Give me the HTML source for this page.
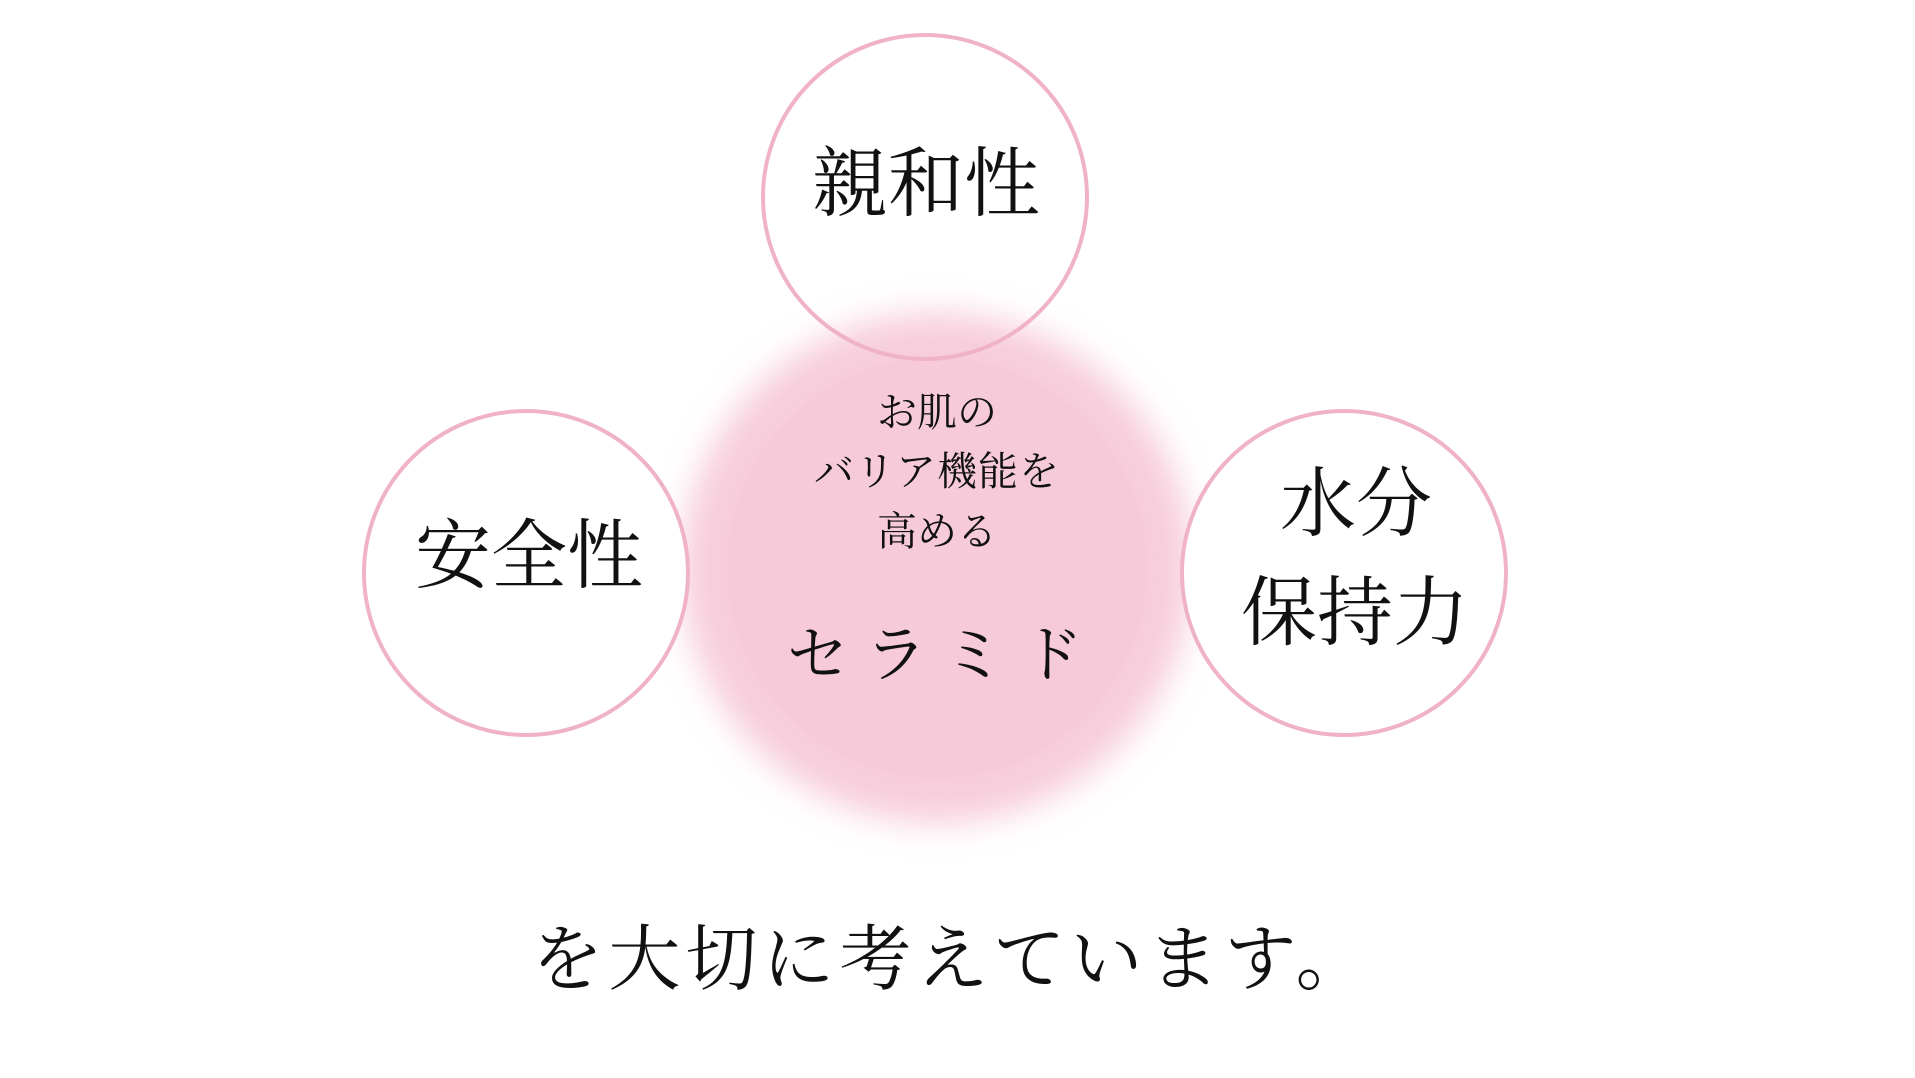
<!DOCTYPE html>
<html><head><meta charset="utf-8"><style>
html,body{margin:0;padding:0;background:#fff;}
body{width:1915px;height:1078px;position:relative;overflow:hidden;font-family:"Liberation Serif","Noto Serif CJK SC",serif;color:#111;}
.t{position:absolute;transform:translate(-50%,-50%);white-space:nowrap;line-height:1;}
</style></head><body>
<svg width="1915" height="1078" style="position:absolute;left:0;top:0">
<defs>
<filter id="b"><feGaussianBlur stdDeviation="16"/></filter>
</defs>
<circle cx="937" cy="568" r="255" fill="#f7cddb" filter="url(#b)"/>
<circle cx="937" cy="568" r="210" fill="#f5c6d5" opacity="0.4"/>
<circle cx="925" cy="197" r="162" fill="none" stroke="#f0b3c5" stroke-width="4"/>
<circle cx="526" cy="573" r="162" fill="#fff" stroke="#f0b3c5" stroke-width="4"/>
<circle cx="1344" cy="573" r="162" fill="#fff" stroke="#f0b3c5" stroke-width="4"/>
</svg>
<div class="t" style="left:926px;top:185px;font-size:76px;">親和性</div>
<div class="t" style="left:529px;top:557px;font-size:76px;">安全性</div>
<div class="t" style="left:1356px;top:505px;font-size:76px;">水分</div>
<div class="t" style="left:1355px;top:614px;font-size:76px;">保持力</div>
<div class="t" style="left:937px;top:413px;font-size:40px;">お肌の</div>
<div class="t" style="left:937px;top:472px;font-size:40px;letter-spacing:1px;">バリア機能を</div>
<div class="t" style="left:937px;top:532px;font-size:40px;">高める</div>
<div class="t" style="left:943px;top:656px;font-size:62px;letter-spacing:16px;">セラミド</div>
<div class="t" style="left:952px;top:960px;font-size:72px;letter-spacing:5px;">を大切に考えています。</div>
</body></html>
